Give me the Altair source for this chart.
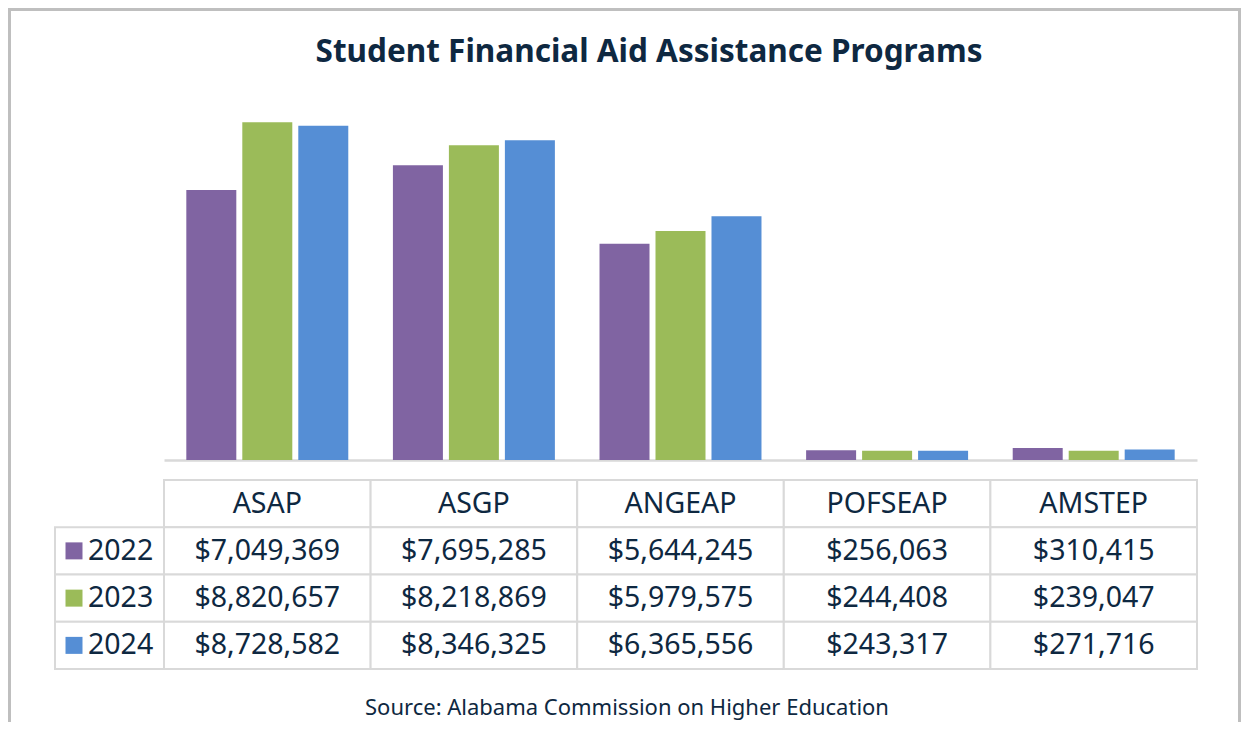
import altair as alt
import pandas as pd

programs = ["ASAP", "ASGP", "ANGEAP", "POFSEAP", "AMSTEP"]
years = ["2022", "2023", "2024"]
v2022 = [7049369, 7695285, 5644245, 256063, 310415]
v2023 = [8820657, 8218869, 5979575, 244408, 239047]
v2024 = [8728582, 8346325, 6365556, 243317, 271716]
colors = ["#8064A2", "#9BBB59", "#558ED5"]
title_text = "Student Financial Aid Assistance Programs"
source_text = "Source: Alabama Commission on Higher Education"

FONT = "Noto Sans"
INK = "#0E2841"
GRID = "#D9D9D9"
W, H = 1033, 383
PAD_L, PAD_T = 156, 69
TOTAL_W, TOTAL_H = 1236, 714

rows = []
for y, vals in zip(years, [v2022, v2023, v2024]):
    for p, v in zip(programs, vals):
        rows.append({"program": p, "year": y, "value": v, "row": y})
df = pd.DataFrame(rows)
hdr = pd.DataFrame({"program": programs, "row": ["hdr"] * len(programs)})
yrs = pd.DataFrame({"year": years, "row": years})
one = pd.DataFrame({"k": [0]})

color = alt.Color("year:N", scale=alt.Scale(domain=years, range=colors), legend=None)

bars = alt.Chart(df).mark_bar().encode(
    x=alt.X("program:N", sort=programs,
            scale=alt.Scale(domain=programs, paddingInner=0.216, paddingOuter=0.108),
            axis=alt.Axis(labels=False, ticks=False, title=None, grid=False,
                          domainColor=GRID, domainWidth=2.5)),
    xOffset=alt.XOffset("year:N", scale=alt.Scale(domain=years, paddingInner=0.107)),
    y=alt.Y("value:Q", scale=alt.Scale(domain=[0, 10000000], nice=False), axis=None),
    color=color,
)

row_scale = alt.Scale(domain=["hdr"] + years, range=[403, 592], paddingInner=0, paddingOuter=0)
col_scale = alt.Scale(domain=programs, paddingInner=0, paddingOuter=0)
tx = alt.X("program:N", sort=programs, scale=col_scale, axis=None)
ty = alt.Y("row:N", scale=row_scale, axis=None)

cells_hdr = alt.Chart(hdr).mark_rect(fill="white", stroke=GRID, strokeWidth=2).encode(x=tx, y=ty)
cells_val = alt.Chart(df).mark_rect(fill="white", stroke=GRID, strokeWidth=2).encode(x=tx, y=ty)
cells_lab = alt.Chart(yrs).mark_rect(fill="white", stroke=GRID, strokeWidth=2).encode(
    x=alt.value(-109), x2=alt.value(0), y=ty)

TFS = 28.5
txt_hdr = alt.Chart(hdr).mark_text(font=FONT, fontSize=TFS, color=INK, baseline="middle").encode(
    x=tx, y=ty, text="program:N")
txt_val = alt.Chart(df).mark_text(font=FONT, fontSize=TFS, color=INK, baseline="middle").encode(
    x=tx, y=ty, text=alt.Text("value:Q", format="$,.0f"))
txt_lab = alt.Chart(yrs).mark_text(font=FONT, fontSize=TFS, color=INK, baseline="middle",
                                   align="left").encode(
    x=alt.value(-76), y=ty, text="year:N")
squares = alt.Chart(yrs).mark_square(size=289, opacity=1, filled=True).encode(
    x=alt.value(-90), y=ty, color=color)

title = alt.Chart(one).mark_text(text=title_text, font=FONT, fontSize=31.5, fontWeight="bold",
                                 color=INK, baseline="middle").encode(
    x=alt.value(485), y=alt.value(-24))
source = alt.Chart(one).mark_text(text=source_text, font=FONT, fontSize=22, color=INK,
                                  baseline="middle").encode(
    x=alt.value(463), y=alt.value(631))

FR = "#BFBFBF"
frame_l = alt.Chart(one).mark_rule(color=FR, strokeWidth=3).encode(
    x=alt.value(-154.5), y=alt.value(-69), y2=alt.value(660))
frame_t = alt.Chart(one).mark_rule(color=FR, strokeWidth=3).encode(
    x=alt.value(-156), x2=alt.value(1077), y=alt.value(-67.5))
frame_r = alt.Chart(one).mark_rule(color=FR, strokeWidth=3).encode(
    x=alt.value(1075.5), y=alt.value(-69), y2=alt.value(660))

chart = alt.layer(
    frame_l, frame_t, frame_r, title, bars,
    cells_hdr, cells_val, cells_lab, txt_hdr, txt_val, txt_lab, squares, source,
).resolve_scale(x="independent", y="independent").properties(
    width=W, height=H, background="white",
    autosize=alt.AutoSizeParams(type="none"),
    padding={"left": PAD_L, "top": PAD_T,
             "right": TOTAL_W - PAD_L - W, "bottom": TOTAL_H - PAD_T - H},
).configure_view(stroke=None)

chart.save("out.html", embed_options={"renderer": "svg", "actions": False})
